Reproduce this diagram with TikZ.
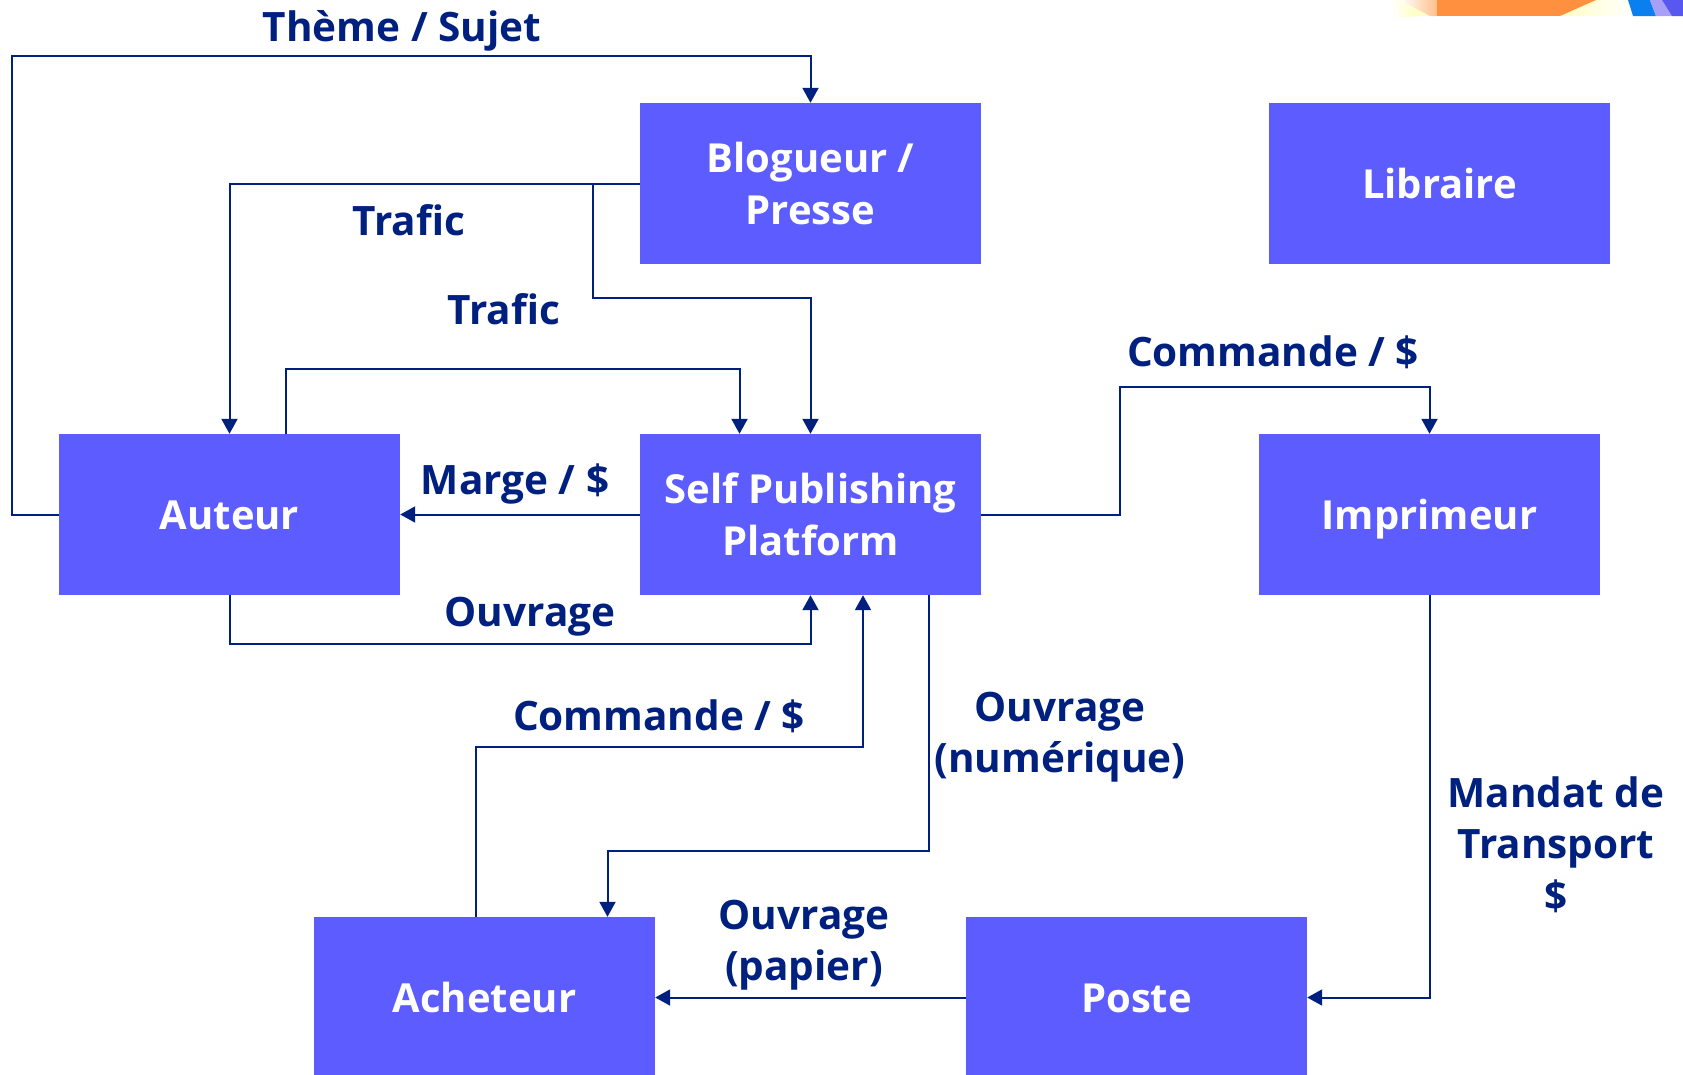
\documentclass[tikz,border=0pt]{standalone}
\usepackage{fontspec}
\setmainfont{Open Sans}
\usetikzlibrary{arrows.meta,positioning}
\definecolor{navy}{HTML}{00207F}
\definecolor{boxblue}{HTML}{5C5CFF}
\definecolor{peach}{HTML}{FFC08C}
\definecolor{paleyellow}{HTML}{FFFFC8}
\definecolor{photoorange}{HTML}{FF9040}
\definecolor{photoblue}{HTML}{0A80F0}
\definecolor{lavender}{HTML}{A8A0F8}
\definecolor{photoviolet}{HTML}{5858F0}
\tikzset{
  actor/.style={fill=boxblue,text=white,minimum width=341,minimum height=161,inner sep=0,align=center,font=\fontsize{40}{51.5}\selectfont\bfseries},
  oneline/.style={text height=29,text depth=0},
  flowlabel/.style={text=navy,inner sep=0,align=center,font=\fontsize{40.5}{51.5}\selectfont\bfseries},
  flow/.style={draw=navy,line width=2,-{Triangle[length=15,width=16]}}
}
\begin{document}
\begin{tikzpicture}[x=1pt,y=-1pt]
      \clip (0,0) rectangle (1683,1074);

      % corner of the picture at top right
      \fill[paleyellow] (1393,0) rectangle (1600,16);
      \shade[left color=white,right color=paleyellow] (1390,0) rectangle (1415,16);
      \shade[left color=white,right color=peach] (1400,0) -- (1430,16) -- (1437,16) -- (1437,0) -- cycle;
      \fill[photoorange] (1437,0) rectangle (1560,16);
      \fill[photoorange] (1560,0) -- (1560,16) -- (1596,0) -- cycle;
      \shade[left color=paleyellow,right color=white] (1565,16) -- (1600,0) -- (1628,0) -- (1633,16) -- cycle;
      \fill[photoblue] (1628,0) -- (1633,16) -- (1656,16) -- (1650,0) -- cycle;
      \fill[lavender] (1650,0) -- (1656,16) -- (1672,16) -- (1662,0) -- cycle;
      \fill[photoviolet] (1662,0) -- (1672,16) -- (1683,16) -- (1683,0) -- cycle;

      % boxes
      \node[actor] (blog) at (810.5,183.5) {Blogueur /\\Presse};
      \node[actor,oneline] (libraire) at (1439.5,183.5) {Libraire};
      \node[actor,oneline] (auteur) at (229.5,514.5) {Auteur};
      \node[actor] (spp) at (810.5,514.5) {Self Publishing\\Platform};
      \node[actor,oneline] (imprimeur) at (1429.5,514.5) {Imprimeur};
      \node[actor,oneline] (acheteur) at (484.5,997.5) {Acheteur};
      \node[actor,oneline] (poste) at (1136.5,997.5) {Poste};

      % connectors
      \draw[flow] (auteur.west) -| (12,55.5) -| (blog.north);
      \draw[flow] (blog.west) -| (auteur.north);
      \draw[flow] (blog.west) -| (592.7,298) -| (spp.north);
      \draw[flow] ([xshift=56.5]auteur.north) |- (739.5,368.5) -- ([xshift=-71]spp.north);
      \draw[flow] (spp.west) -- (auteur.east);
      \draw[flow] (auteur.south) |- (810.5,643.5) -- (spp.south);
      \draw[flow] ([xshift=-9]acheteur.north) |- (863,747) -- ([xshift=52.5]spp.south);
      \draw[flow] ([xshift=118]spp.south) |- (607.5,851) -- ([xshift=123]acheteur.north);
      \draw[flow] (poste.west) -- (acheteur.east);
      \draw[flow] (imprimeur.south) |- (poste.east);
      \draw[flow] (spp.east) -| (1120,386.5) -| (imprimeur.north);

      % labels
      \node[flowlabel] (theme) at (402,31) {Thème / Sujet};
      \node[flowlabel] (trafica) at (409,220) {Trafic};
      \node[flowlabel] (traficb) at (504,309) {Trafic};
      \node[flowlabel] (cmdimp) at (1273,352.5) {Commande / \$};
      \node[flowlabel] (marge) at (515,484) {Marge / \$};
      \node[flowlabel] (ouvrage) at (530,617) {Ouvrage};
      \node[flowlabel] (cmdspp) at (659,716.5) {Commande / \$};
      \node[flowlabel] (ouvnum) at (1060,737) {Ouvrage\\(numérique)};
      \node[flowlabel] (mandat) at (1556,844.5) {Mandat de\\Transport\\\$};
      \node[flowlabel] (ouvpap) at (804,945) {Ouvrage\\(papier)};
\end{tikzpicture}
\end{document}
